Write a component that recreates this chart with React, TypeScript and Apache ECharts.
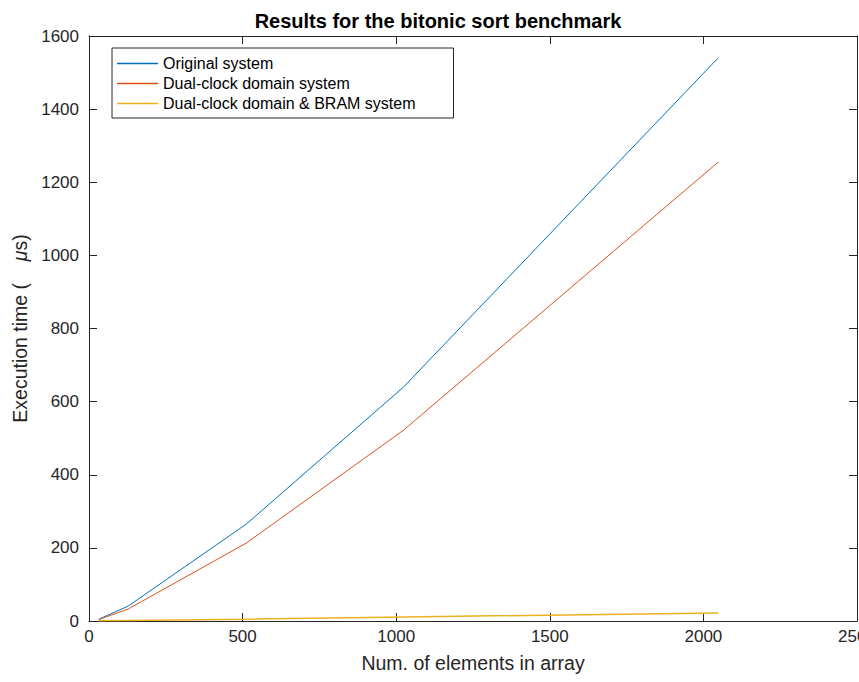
import React, { useEffect, useRef } from "react";
import * as echarts from "echarts";

const sizes = [32, 128, 512, 1024, 2048];
const originalSystem = [5, 41, 265, 640, 1540];
const dualClockSystem = [4, 33, 213, 522, 1255];
const dualClockBramSystem = [0.5, 1.5, 5, 11, 22];
const seriesNames = [
  "Original system",
  "Dual-clock domain system",
  "Dual-clock domain & BRAM system",
];
const colors = ["#0072BD", "#D95319", "#EDB120"];

const FONT = "'Liberation Sans', Arial, Helvetica, sans-serif";

export default function App() {
  const ref = useRef<HTMLDivElement>(null);
  useEffect(() => {
    document.body.style.margin = "0";
    const chart = echarts.init(ref.current!, undefined, { renderer: "svg" });
    const axisColor = "#262626";
    const pair = (arr: number[]) => sizes.map((s, i) => [s, arr[i]]);
    const plain = (v: number) => String(v);
    const xBase = {
      type: "value" as const,
      min: 0,
      max: 2500,
      interval: 500,
      splitLine: { show: false },
      axisLine: { show: true, onZero: false, lineStyle: { color: axisColor, width: 1 } },
      axisTick: { show: true, inside: true, length: 8, lineStyle: { color: axisColor } },
    };
    const yBase = {
      type: "value" as const,
      min: 0,
      max: 1600,
      interval: 200,
      splitLine: { show: false },
      axisLine: { show: true, onZero: false, lineStyle: { color: axisColor, width: 1 } },
      axisTick: { show: true, inside: true, length: 8, lineStyle: { color: axisColor } },
    };
    chart.setOption({
      animation: false,
      backgroundColor: "#ffffff",
      textStyle: { fontFamily: FONT },
      title: {
        text: "Results for the bitonic sort benchmark",
        left: 433,
        top: 6,
        textAlign: "center",
        textStyle: { fontFamily: FONT, fontSize: 20, fontWeight: "bold", color: "#000" },
      },
      grid: { left: 89, right: 2, top: 36, bottom: 61, containLabel: false, outerBoundsMode: "none" },
      legend: {
        orient: "vertical",
        left: 112,
        top: 48,
        backgroundColor: "#fff",
        borderColor: axisColor,
        borderWidth: 1,
        borderRadius: 0,
        padding: [7, 38, 6, 5],
        itemGap: 3,
        itemWidth: 41,
        itemHeight: 1.5,
        icon: "rect",
        textStyle: { fontFamily: FONT, fontSize: 16, color: "#000", lineHeight: 17 },
        data: seriesNames.map((n) => ({ name: n, icon: "rect" })),
      },
      xAxis: [
        {
          ...xBase,
          position: "bottom",
          name: "Num. of elements in array",
          nameLocation: "middle",
          nameGap: 32,
          nameTextStyle: { fontFamily: FONT, fontSize: 19.5, color: "#262626" },
          axisLabel: { show: true, fontFamily: FONT, fontSize: 17, color: "#262626", margin: 7, formatter: plain },
        },
        { ...xBase, position: "top", axisLabel: { show: false } },
      ],
      yAxis: [
        {
          ...yBase,
          position: "left",
          name: "Execution time (    {mu|μ}s)",
          nameLocation: "middle",
          nameGap: 56,
          nameTextStyle: {
            fontFamily: FONT,
            fontSize: 19.5,
            color: "#262626",
            rich: { mu: { fontFamily: FONT, fontSize: 19.5, fontStyle: "italic", color: "#262626" } },
          },
          axisLabel: { show: true, fontFamily: FONT, fontSize: 17, color: "#262626", margin: 10, formatter: plain },
        },
        { ...yBase, position: "right", axisLabel: { show: false } },
      ],
      series: [originalSystem, dualClockSystem, dualClockBramSystem].map((arr, i) => ({
        name: seriesNames[i],
        type: "line",
        data: pair(arr),
        symbol: "none",
        showSymbol: false,
        lineStyle: { color: colors[i], width: i === 2 ? 1.5 : 1 },
        itemStyle: { color: colors[i] },
        xAxisIndex: 0,
        yAxisIndex: 0,
      })),
    });
    return () => chart.dispose();
  }, []);
  return <div ref={ref} style={{ width: 859, height: 682 }} />;
}
